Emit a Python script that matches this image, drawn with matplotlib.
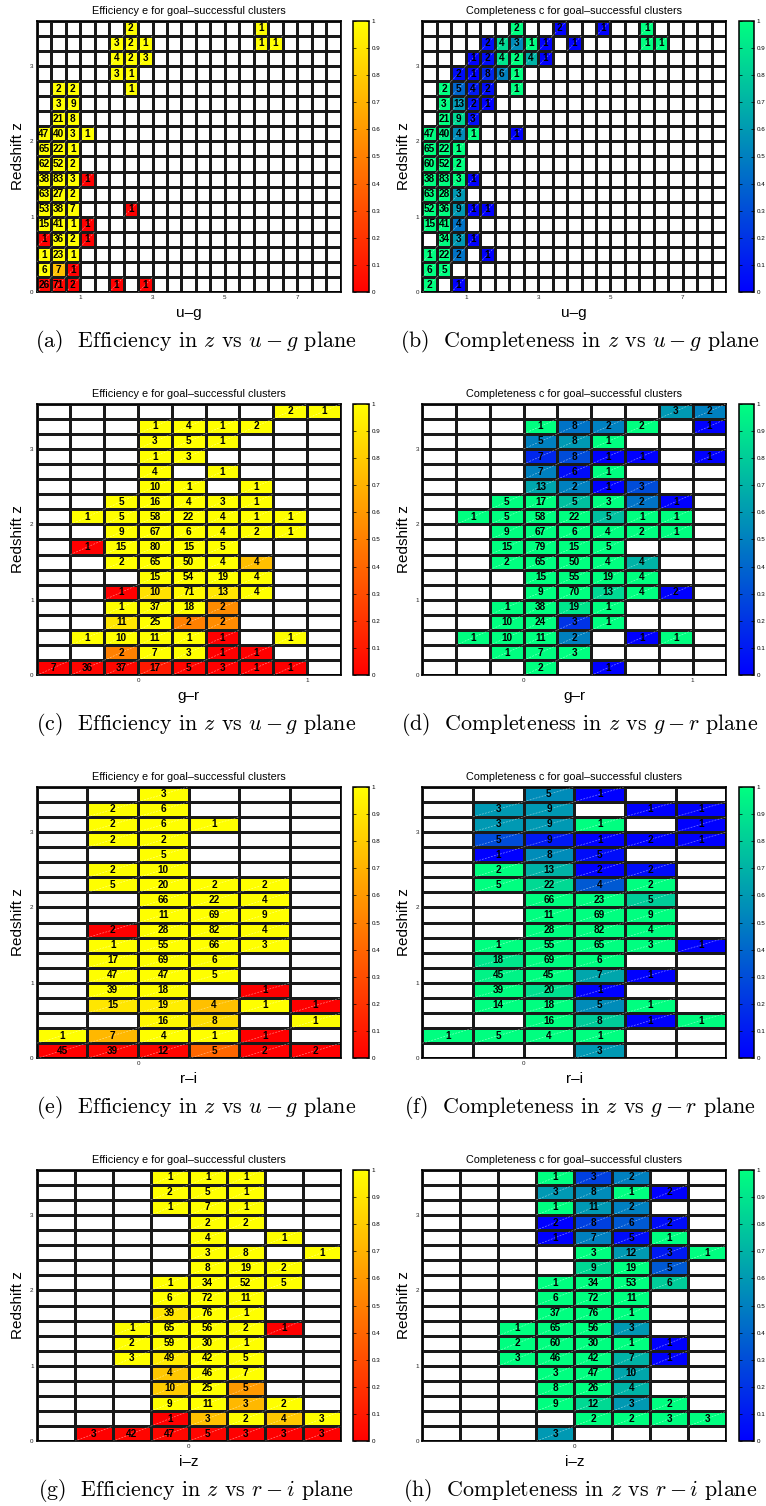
import numpy as np
import matplotlib
matplotlib.use("Agg")
import matplotlib.pyplot as plt
from matplotlib.collections import LineCollection

plt.rcParams['font.family'] = ['Liberation Sans', 'DejaVu Sans']
plt.rcParams['mathtext.fontset'] = 'cm'

# ---------------------------------------------------------------- bins
Z_EDGES = np.round(np.arange(0.0, 3.6001, 0.2), 3)
UG_EDGES = np.round(np.arange(-0.2, 8.2001, 0.4), 3)
GR_EDGES = np.round(np.arange(-0.6, 1.2001, 0.2), 3)
RI_EDGES = np.round(np.arange(-0.4, 0.8001, 0.2), 3)
IZ_EDGES = np.round(np.arange(-0.8, 0.8001, 0.2), 3)

Z_TICKS = [0, 1, 2, 3]
UG_TICKS = [1, 3, 5, 7]
GR_TICKS = [0, 1]
RI_TICKS = [0]
IZ_TICKS = [0]
CBAR_TICKS = [0, 0.1, 0.2, 0.3, 0.4, 0.5, 0.6, 0.7, 0.8, 0.9, 1]

# ---------------------------------------------------------------- data
# One list per redshift bin, highest redshift first.
# Each entry: (colour-bin index, number of clusters, fraction).
EFF_UG = [
    [(6, 2, 1), (15, 1, 1)],
    [(5, 3, 1), (6, 2, 1), (7, 1, 1), (15, 1, 1), (16, 1, 1)],
    [(5, 4, 1), (6, 2, 1), (7, 3, 1)],
    [(5, 3, 1), (6, 1, 1)],
    [(1, 2, 1), (2, 2, 1), (6, 1, 1)],
    [(1, 3, 1), (2, 9, 1)],
    [(1, 21, 1), (2, 8, 1)],
    [(0, 47, 1), (1, 40, 1), (2, 3, 1), (3, 1, 1)],
    [(0, 65, 1), (1, 22, 1), (2, 1, 1)],
    [(0, 62, 1), (1, 52, 1), (2, 2, 1)],
    [(0, 38, 1), (1, 83, 1), (2, 3, 1), (3, 1, 0)],
    [(0, 63, 1), (1, 27, 1), (2, 2, 1)],
    [(0, 53, 1), (1, 38, 1), (2, 7, 1), (6, 1, 0)],
    [(0, 15, 1), (1, 41, 1), (2, 1, 1), (3, 1, 0)],
    [(0, 1, 0), (1, 36, 1), (2, 2, 1), (3, 1, 0)],
    [(0, 1, 1), (1, 23, 1), (2, 1, 1)],
    [(0, 6, 1), (1, 7, 0.75), (2, 1, 0)],
    [(0, 26, 0.02), (1, 71, 0.03), (2, 2, 0), (5, 1, 0), (7, 1, 0)],
]

COMP_UG = [
    [(6, 2, 1), (9, 2, 0), (12, 1, 0), (15, 1, 1)],
    [(4, 2, 0.05), (5, 4, 0.85), (6, 3, 0.55), (7, 1, 1), (8, 1, 0), (10, 1, 0), (15, 1, 1), (16, 1, 1)],
    [(3, 1, 0), (4, 2, 0.05), (5, 4, 0.9), (6, 2, 1), (7, 4, 0.7), (8, 1, 0)],
    [(2, 2, 0.05), (3, 1, 0), (4, 8, 0.15), (5, 6, 0.5), (6, 1, 1)],
    [(1, 2, 1), (2, 5, 0.4), (3, 4, 0.1), (4, 2, 0.05), (6, 1, 1)],
    [(1, 3, 1), (2, 13, 0.6), (3, 2, 0.05), (4, 1, 0)],
    [(1, 21, 1), (2, 9, 0.85), (3, 3, 0.05)],
    [(0, 47, 1), (1, 40, 0.95), (2, 4, 0.55), (3, 1, 1), (6, 1, 0)],
    [(0, 65, 1), (1, 22, 1), (2, 1, 1)],
    [(0, 60, 1), (1, 52, 1), (2, 2, 1)],
    [(0, 38, 1), (1, 83, 1), (2, 3, 1), (3, 1, 0)],
    [(0, 63, 1), (1, 28, 1), (2, 3, 0.6)],
    [(0, 52, 1), (1, 36, 1), (2, 9, 0.6), (3, 1, 0), (4, 1, 0)],
    [(0, 15, 1), (1, 41, 1), (2, 4, 0.45)],
    [(1, 34, 1), (2, 3, 0.6), (3, 1, 0)],
    [(0, 1, 1), (1, 22, 1), (2, 2, 0.45), (4, 1, 0)],
    [(0, 6, 1), (1, 5, 1)],
    [(0, 2, 1), (2, 1, 0)],
]

EFF_GR = [
    [(7, 2, 1), (8, 1, 1)],
    [(3, 1, 1), (4, 4, 1), (5, 1, 1), (6, 2, 1)],
    [(3, 3, 1), (4, 5, 1), (5, 1, 1)],
    [(3, 1, 1), (4, 3, 1)],
    [(3, 4, 1), (5, 1, 1)],
    [(3, 10, 1), (4, 1, 1), (6, 1, 1)],
    [(2, 5, 1), (3, 16, 1), (4, 4, 1), (5, 3, 1), (6, 1, 1)],
    [(1, 1, 1), (2, 5, 1), (3, 58, 1), (4, 22, 1), (5, 4, 1), (6, 1, 1), (7, 1, 1)],
    [(2, 9, 1), (3, 67, 1), (4, 6, 1), (5, 4, 1), (6, 2, 1), (7, 1, 1)],
    [(1, 1, 0), (2, 15, 1), (3, 80, 1), (4, 15, 1), (5, 5, 1)],
    [(2, 2, 1), (3, 65, 1), (4, 50, 1), (5, 4, 1), (6, 4, 0.75)],
    [(3, 15, 1), (4, 54, 1), (5, 19, 1), (6, 4, 1)],
    [(2, 1, 0), (3, 10, 0.88), (4, 71, 0.97), (5, 13, 0.9), (6, 4, 1)],
    [(2, 1, 1), (3, 37, 1), (4, 18, 1), (5, 2, 0.55)],
    [(2, 11, 0.9), (3, 25, 1), (4, 2, 0.5), (5, 2, 0.55)],
    [(1, 1, 1), (2, 10, 1), (3, 11, 1), (4, 1, 1), (5, 1, 0), (7, 1, 1)],
    [(2, 2, 0.5), (3, 7, 1), (4, 3, 1), (5, 1, 0), (6, 1, 0)],
    [(0, 7, 0), (1, 36, 0.02), (2, 37, 0.03), (3, 17, 0.1), (4, 5, 0.02), (5, 3, 0), (6, 1, 0), (7, 1, 0)],
]

COMP_GR = [
    [(7, 3, 0.6), (8, 2, 0.5)],
    [(3, 1, 1), (4, 8, 0.45), (5, 2, 0.5), (6, 2, 1), (8, 1, 0)],
    [(3, 5, 0.5), (4, 8, 0.6), (5, 1, 1)],
    [(3, 7, 0.15), (4, 8, 0.3), (5, 1, 0), (6, 1, 0), (8, 1, 0)],
    [(3, 7, 0.5), (4, 6, 0.05), (5, 1, 1)],
    [(3, 13, 0.65), (4, 2, 0.5), (5, 1, 0), (6, 3, 0.3)],
    [(2, 5, 1), (3, 17, 1), (4, 5, 0.75), (5, 3, 1), (6, 2, 0.45), (7, 1, 0)],
    [(1, 1, 1), (2, 5, 1), (3, 58, 1), (4, 22, 1), (5, 5, 0.75), (6, 1, 1), (7, 1, 1)],
    [(2, 9, 1), (3, 67, 1), (4, 6, 1), (5, 4, 1), (6, 2, 1), (7, 1, 1)],
    [(2, 15, 1), (3, 79, 1), (4, 15, 1), (5, 5, 1)],
    [(2, 2, 1), (3, 65, 1), (4, 50, 1), (5, 4, 1), (6, 4, 0.7)],
    [(3, 15, 1), (4, 55, 1), (5, 19, 1), (6, 4, 1)],
    [(3, 9, 1), (4, 70, 1), (5, 13, 0.85), (6, 4, 1), (7, 2, 0)],
    [(2, 1, 1), (3, 38, 1), (4, 19, 0.9), (5, 1, 1)],
    [(2, 10, 1), (3, 24, 1), (4, 3, 0.2), (5, 1, 1)],
    [(1, 1, 1), (2, 10, 1), (3, 11, 1), (4, 2, 0.5), (6, 1, 0), (7, 1, 1)],
    [(2, 1, 1), (3, 7, 1), (4, 3, 1)],
    [(3, 2, 1), (5, 1, 0)],
]

EFF_RI = [
    [(2, 3, 1)],
    [(1, 2, 1), (2, 6, 1)],
    [(1, 2, 1), (2, 6, 1), (3, 1, 1)],
    [(1, 2, 1), (2, 2, 1)],
    [(2, 5, 1)],
    [(1, 2, 1), (2, 10, 1)],
    [(1, 5, 1), (2, 20, 1), (3, 2, 1), (4, 2, 1)],
    [(2, 66, 1), (3, 22, 1), (4, 4, 1)],
    [(2, 11, 1), (3, 69, 1), (4, 9, 1)],
    [(1, 2, 0), (2, 28, 1), (3, 82, 1), (4, 4, 1)],
    [(1, 1, 1), (2, 55, 1), (3, 66, 1), (4, 3, 1)],
    [(1, 17, 1), (2, 69, 1), (3, 6, 1)],
    [(1, 47, 1), (2, 47, 1), (3, 5, 1)],
    [(1, 39, 1), (2, 18, 1), (4, 1, 0)],
    [(1, 15, 0.9), (2, 19, 0.93), (3, 4, 0.75), (4, 1, 1), (5, 1, 0)],
    [(2, 16, 0.97), (3, 8, 0.87), (5, 1, 1)],
    [(0, 1, 1), (1, 7, 0.72), (2, 4, 1), (3, 1, 1), (4, 1, 0)],
    [(0, 45, 0), (1, 39, 0.02), (2, 12, 0.02), (3, 5, 0.4), (4, 2, 0), (5, 2, 0)],
]

COMP_RI = [
    [(2, 5, 0.55), (3, 1, 0)],
    [(1, 3, 0.6), (2, 9, 0.6), (4, 1, 0), (5, 1, 0)],
    [(1, 3, 0.6), (2, 9, 0.6), (3, 1, 1), (5, 1, 0)],
    [(1, 5, 0.3), (2, 9, 0.1), (3, 1, 0), (4, 2, 0), (5, 1, 0)],
    [(1, 1, 0), (2, 8, 0.55), (3, 5, 0.05)],
    [(1, 2, 1), (2, 13, 0.7), (3, 2, 0), (4, 2, 0.05)],
    [(1, 5, 1), (2, 22, 0.85), (3, 4, 0.35), (4, 2, 1)],
    [(2, 66, 1), (3, 23, 1), (4, 5, 0.8)],
    [(2, 11, 1), (3, 69, 1), (4, 9, 1)],
    [(2, 28, 1), (3, 82, 1), (4, 4, 1)],
    [(1, 1, 1), (2, 55, 1), (3, 65, 1), (4, 3, 1), (5, 1, 0)],
    [(1, 18, 0.9), (2, 69, 1), (3, 6, 1)],
    [(1, 45, 0.95), (2, 45, 1), (3, 7, 0.65), (4, 1, 0)],
    [(1, 39, 1), (2, 20, 0.88), (3, 1, 0)],
    [(1, 14, 1), (2, 18, 1), (3, 5, 0.55), (4, 1, 1)],
    [(2, 16, 1), (3, 8, 0.8), (4, 1, 0), (5, 1, 1)],
    [(0, 1, 1), (1, 5, 1), (2, 4, 1), (3, 1, 1)],
    [(3, 3, 0.6)],
]

EFF_IZ = [
    [(3, 1, 1), (4, 1, 1), (5, 1, 1)],
    [(3, 2, 1), (4, 5, 1), (5, 1, 1)],
    [(3, 1, 1), (4, 7, 1), (5, 1, 1)],
    [(4, 2, 1), (5, 2, 1)],
    [(4, 4, 1), (6, 1, 1)],
    [(4, 3, 1), (5, 8, 1), (7, 1, 1)],
    [(4, 8, 1), (5, 19, 1), (6, 2, 1)],
    [(3, 1, 1), (4, 34, 1), (5, 52, 1), (6, 5, 1)],
    [(3, 6, 1), (4, 72, 1), (5, 11, 1)],
    [(3, 39, 0.9), (4, 76, 1), (5, 1, 1)],
    [(2, 1, 1), (3, 65, 1), (4, 56, 1), (5, 2, 1), (6, 1, 0)],
    [(2, 2, 1), (3, 59, 1), (4, 30, 1), (5, 1, 1)],
    [(2, 3, 1), (3, 49, 0.92), (4, 42, 1), (5, 5, 1)],
    [(3, 4, 0.78), (4, 46, 1), (5, 7, 1)],
    [(3, 10, 0.8), (4, 25, 1), (5, 5, 0.6)],
    [(3, 9, 1), (4, 11, 1), (5, 3, 0.72), (6, 2, 1)],
    [(3, 1, 0), (4, 3, 0.75), (5, 2, 1), (6, 4, 0.78), (7, 3, 1)],
    [(1, 3, 0), (2, 42, 0.02), (3, 47, 0.03), (4, 5, 0.02), (5, 3, 0), (6, 3, 0), (7, 3, 0)],
]

COMP_IZ = [
    [(3, 1, 1), (4, 3, 0.25), (5, 2, 0.5)],
    [(3, 3, 0.6), (4, 8, 0.55), (5, 1, 1), (6, 2, 0)],
    [(3, 1, 1), (4, 11, 0.6), (5, 2, 0.5)],
    [(3, 2, 0), (4, 8, 0.25), (5, 6, 0.35), (6, 2, 0.05)],
    [(3, 1, 0), (4, 7, 0.5), (5, 5, 0.05), (6, 1, 1)],
    [(4, 3, 1), (5, 12, 0.6), (6, 3, 0.1), (7, 1, 1)],
    [(4, 9, 0.85), (5, 19, 1), (6, 5, 0.35)],
    [(3, 1, 1), (4, 34, 1), (5, 53, 1), (6, 6, 0.8)],
    [(3, 6, 1), (4, 72, 1), (5, 11, 1)],
    [(3, 37, 1), (4, 76, 1), (5, 1, 1)],
    [(2, 1, 1), (3, 65, 1), (4, 56, 1), (5, 3, 0.6)],
    [(2, 2, 1), (3, 60, 1), (4, 30, 1), (5, 1, 1), (6, 1, 0)],
    [(2, 3, 1), (3, 46, 1), (4, 42, 1), (5, 7, 0.7), (6, 1, 0)],
    [(3, 3, 1), (4, 47, 1), (5, 10, 0.65)],
    [(3, 8, 1), (4, 26, 1), (5, 4, 0.7)],
    [(3, 9, 1), (4, 12, 0.85), (5, 3, 0.6), (6, 2, 1)],
    [(4, 2, 1), (5, 2, 1), (6, 3, 1), (7, 3, 1)],
    [(3, 3, 0.6)],
]

EFF_TITLE = "Efficiency e for goal\u2013successful clusters"
COMP_TITLE = "Completeness c for goal\u2013successful clusters"

# ---------------------------------------------------------------- layout (pixels)
W, H = 766, 1506
ROW_TOP = [20.7, 403.7, 786.7, 1169.7]
AX_H = 271.6
COLS = {
    'left': dict(ax=(36.7, 340.7), cb=(353.3, 369.0), cap=196),
    'right': dict(ax=(422.3, 726.3), cb=(739.0, 754.0), cap=580),
}


def px_rect(x0, x1, y0, y1):
    return [x0 / W, 1 - y1 / H, (x1 - x0) / W, (y1 - y0) / H]


def build_grid(rows, ncols):
    nrows = len(rows)
    frac = np.full((nrows, ncols), np.nan)
    count = np.zeros((nrows, ncols), dtype=int)
    for r, cells in enumerate(rows):
        zi = nrows - 1 - r
        for c, n, f in cells:
            frac[zi, c] = f
            count[zi, c] = n
    return count, frac


def draw_panel(fig, row, side, rows, edges, cmap_name, title, xlabel, xticks, caption):
    top = ROW_TOP[row]
    bottom = top + AX_H
    spec = COLS[side]
    ax = fig.add_axes(px_rect(*spec['ax'], top, bottom))
    cax = fig.add_axes(px_rect(*spec['cb'], top, bottom))

    count, frac = build_grid(rows, len(edges) - 1)
    cmap = plt.get_cmap(cmap_name).copy()
    cmap.set_bad('white')
    mesh = ax.pcolormesh(edges, Z_EDGES, np.ma.masked_invalid(frac), cmap=cmap,
                         vmin=0, vmax=1, edgecolors='#1a1a1a', linewidth=0.8)

    xc = 0.5 * (edges[:-1] + edges[1:])
    yc = 0.5 * (Z_EDGES[:-1] + Z_EDGES[1:])
    segs = []
    for zi, ci in zip(*np.nonzero(np.isfinite(frac))):
        ax.text(xc[ci], yc[zi], str(count[zi, ci]), ha='center', va='center',
                fontsize=7.2, fontweight='bold', color='black', zorder=4)
        segs.append([(edges[ci], Z_EDGES[zi]), (edges[ci + 1], Z_EDGES[zi + 1])])
    ax.add_collection(LineCollection(segs, colors='white', linewidths=0.45,
                                     linestyles=(0, (3, 2)), alpha=0.55, zorder=3))

    ax.set_xlim(edges[0], edges[-1])
    ax.set_ylim(Z_EDGES[0], Z_EDGES[-1])
    ax.set_xticks(xticks)
    ax.set_xticklabels([str(t) for t in xticks])
    ax.set_yticks(Z_TICKS)
    ax.set_yticklabels([str(t) for t in Z_TICKS])
    ax.tick_params(length=0, labelsize=4.5, pad=2.2, colors='#222222')
    for sp in ax.spines.values():
        sp.set_linewidth(1.2)
        sp.set_color('black')

    ax.set_title(title, fontsize=7.8, y=1 + 10.0 / AX_H, va='center', pad=0)
    ax.set_xlabel(xlabel, fontsize=11, va='center')
    ax.xaxis.set_label_coords(0.5, -20.4 / AX_H)
    ax.set_ylabel("Redshift z", fontsize=11, va='center')
    ax.yaxis.set_label_coords(-18.4 / (spec['ax'][1] - spec['ax'][0]), 0.5)

    cb = fig.colorbar(mesh, cax=cax, ticks=CBAR_TICKS)
    cb.ax.set_yticklabels(['%g' % t for t in CBAR_TICKS])
    cb.ax.tick_params(labelsize=4.5, direction='in', length=2.5, width=0.5,
                      left=True, right=True, pad=2)
    cb.outline.set_linewidth(1.1)

    fig.text(spec['cap'] / W, 1 - (top + 321.0) / H, caption, ha='center', va='center',
             fontsize=15.8, family='cmr10')


fig = plt.figure(figsize=(W / 100, H / 100), dpi=100)

draw_panel(fig, 0, 'left', EFF_UG, UG_EDGES, 'autumn', EFF_TITLE, "u\u2013g", UG_TICKS,
           r"(a)  Efficiency in $z$ vs $u-g$ plane")
draw_panel(fig, 0, 'right', COMP_UG, UG_EDGES, 'winter', COMP_TITLE, "u\u2013g", UG_TICKS,
           r"(b)  Completeness in $z$ vs $u-g$ plane")
draw_panel(fig, 1, 'left', EFF_GR, GR_EDGES, 'autumn', EFF_TITLE, "g\u2013r", GR_TICKS,
           r"(c)  Efficiency in $z$ vs $u-g$ plane")
draw_panel(fig, 1, 'right', COMP_GR, GR_EDGES, 'winter', COMP_TITLE, "g\u2013r", GR_TICKS,
           r"(d)  Completeness in $z$ vs $g-r$ plane")
draw_panel(fig, 2, 'left', EFF_RI, RI_EDGES, 'autumn', EFF_TITLE, "r\u2013i", RI_TICKS,
           r"(e)  Efficiency in $z$ vs $u-g$ plane")
draw_panel(fig, 2, 'right', COMP_RI, RI_EDGES, 'winter', COMP_TITLE, "r\u2013i", RI_TICKS,
           r"(f)  Completeness in $z$ vs $g-r$ plane")
draw_panel(fig, 3, 'left', EFF_IZ, IZ_EDGES, 'autumn', EFF_TITLE, "i\u2013z", IZ_TICKS,
           r"(g)  Efficiency in $z$ vs $r-i$ plane")
draw_panel(fig, 3, 'right', COMP_IZ, IZ_EDGES, 'winter', COMP_TITLE, "i\u2013z", IZ_TICKS,
           r"(h)  Completeness in $z$ vs $r-i$ plane")

fig.savefig("out.png", dpi=100, facecolor='white')
